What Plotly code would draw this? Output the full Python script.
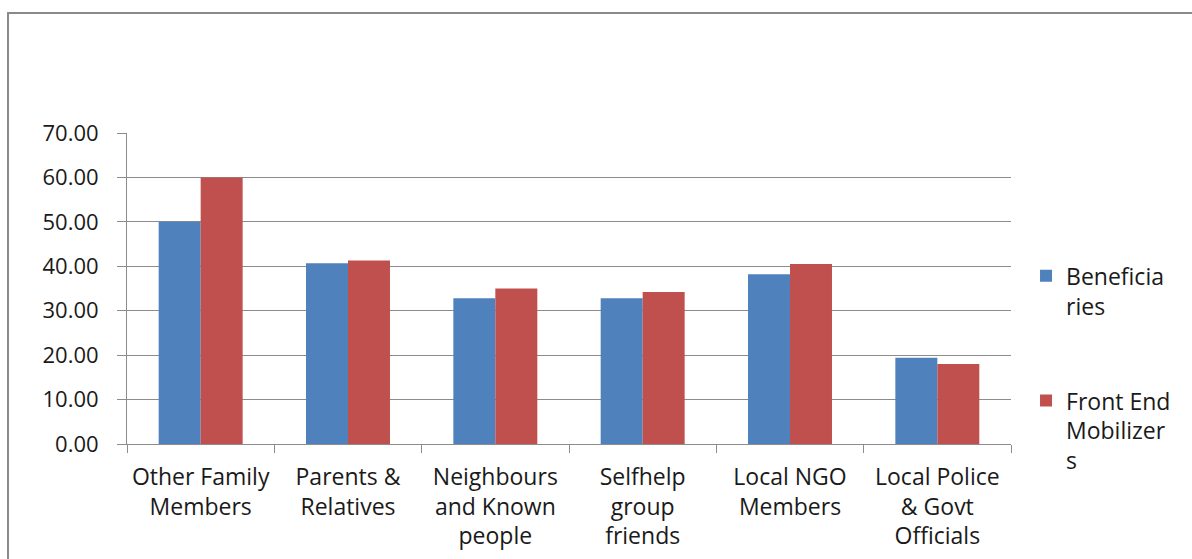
import plotly.graph_objects as go

categories = [
    "Other Family<br>Members",
    "Parents &<br>Relatives",
    "Neighbours<br>and Known<br>people",
    "Selfhelp<br>group<br>friends",
    "Local NGO<br>Members",
    "Local Police<br>& Govt<br>Officials",
]
beneficiaries = [50.0, 40.7, 32.8, 32.8, 38.2, 19.4]
front_end_mobilizers = [60.0, 41.3, 35.0, 34.2, 40.5, 18.0]
y_ticks = [0, 10, 20, 30, 40, 50, 60, 70]

FONT = "'Open Sans', Lato, sans-serif"
GRID = "#8c8c8c"

fig = go.Figure()
fig.add_trace(go.Bar(
    x=categories, y=beneficiaries, name="Beneficia<br>ries",
    marker=dict(color="#4F81BD", line=dict(width=0)), legendgroup="a",
))
fig.add_trace(go.Bar(
    x=categories, y=front_end_mobilizers, name="Front End<br>Mobilizer<br>s",
    marker=dict(color="#C0504D", line=dict(width=0)), legendgroup="b",
))

fig.update_layout(
    width=1192, height=559,
    margin=dict(l=127, r=181, t=133, b=115, autoexpand=False),
    paper_bgcolor="white", plot_bgcolor="white",
    font=dict(family=FONT, size=22, color="#1a1a1a"),
    barmode="group", bargap=0.43, bargroupgap=0,
    legend=dict(
        x=1.017, y=0.61, xanchor="left", yanchor="top",
        font=dict(size=23), tracegroupgap=62, valign="top",
        bgcolor="rgba(0,0,0,0)", itemwidth=30,
    ),
    showlegend=True,
)
fig.update_xaxes(
    type="category", tickson="boundaries", ticks="outside", ticklen=8,
    tickcolor=GRID, showline=True, linecolor=GRID, linewidth=1,
    showgrid=False, tickfont=dict(size=23), ticklabelstandoff=12,
    automargin=False,
)
fig.update_yaxes(
    range=[0, 70], tickvals=y_ticks, tickformat=".2f",
    ticks="outside", ticklen=9, tickcolor=GRID,
    showline=True, linecolor=GRID, linewidth=1,
    showgrid=True, gridcolor=GRID, gridwidth=1,
    zeroline=False, ticklabelstandoff=14, tickfont=dict(size=22),
    automargin=False,
)

# chart frame around the whole drawing area
fig.add_shape(
    type="rect", xref="paper", yref="paper",
    x0=-0.1346, x1=1.4, y0=-0.6, y1=1.386,
    line=dict(color="#8a8a8a", width=2), fillcolor="rgba(0,0,0,0)",
    layer="below",
)

fig.write_html("out.html")
